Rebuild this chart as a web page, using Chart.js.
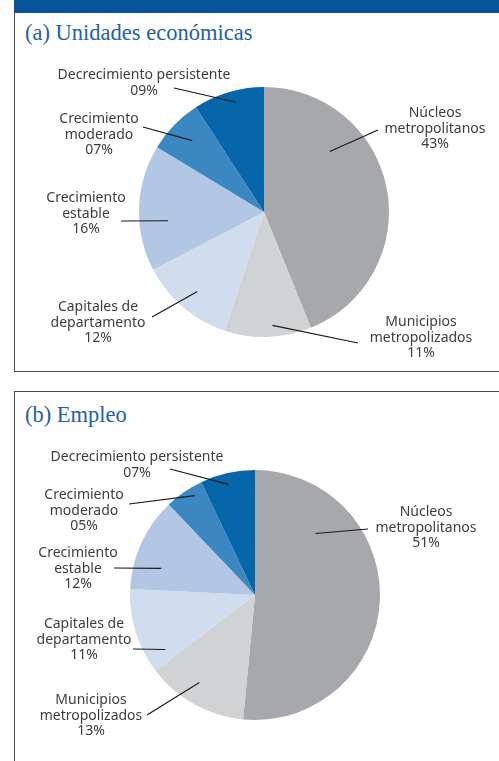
<!DOCTYPE html>
<html>
<head>
<meta charset="utf-8">
<script src="https://cdn.jsdelivr.net/npm/chart.js@4"></script>
<style>
  html, body { margin: 0; padding: 0; background: #fff; }
  body { width: 499px; height: 761px; position: relative; overflow: hidden; }
  .bar { position: absolute; left: 14px; top: 0; width: 485px; height: 13px; background: #08539c; }
  .frameA { position: absolute; left: 14px; top: 13px; width: 485px; height: 359px; border-left: 1.5px solid #4a4a4a; border-bottom: 1.5px solid #4a4a4a; box-sizing: border-box; }
  .frameB { position: absolute; left: 14px; top: 391px; width: 485px; height: 370px; border-left: 1.5px solid #4a4a4a; border-top: 1.5px solid #4a4a4a; box-sizing: border-box; }
  .title { position: absolute; left: 25px; font-family: "Liberation Serif", "DejaVu Serif", serif; font-size: 22.5px; color: #2461a6; white-space: nowrap; line-height: 1; }
  canvas { position: absolute; left: 0; }
</style>
</head>
<body>
<div class="bar"></div>
<div class="frameA"></div>
<div class="frameB"></div>
<div class="title" style="top:22px;">(a) Unidades económicas</div>
<div class="title" style="top:404px;">(b) Empleo</div>
<canvas id="chartA" width="499" height="372" style="top:0px;"></canvas>
<canvas id="chartB" width="499" height="381" style="top:380px;"></canvas>
<script>
// ---- data ----
const categories = ["Núcleos metropolitanos", "Municipios metropolizados", "Capitales de departamento", "Crecimiento estable", "Crecimiento moderado", "Decrecimiento persistente"];
const categoryLines = [["Núcleos", "metropolitanos"], ["Municipios", "metropolizados"], ["Capitales de", "departamento"], ["Crecimiento", "estable"], ["Crecimiento", "moderado"], ["Decrecimiento persistente"]];
const unidadesValues = [43, 11, 12, 16, 7, 9];
const empleoValues = [51, 13, 11, 12, 5, 7];

// ---- styles ----
const sliceColors = ["#a7a8ab", "#d1d2d4", "#d0ddee", "#b1c7e3", "#3a87c1", "#0766a9"];

// label placement: t = position within slice, rf = radius fraction of leader start,
// (ox,oy) leader outer end relative to pie centre, (tx,ty) first text line centre relative to pie centre
const placeA = [
  { t: 0.30, rf: 0.715, ox: 114, oy: -82, tx: 171, ty: -99 },
  { t: 0.44, rf: 0.91, ox: 94, oy: 131, tx: 157, ty: 110 },
  { t: 0.49, rf: 0.83, ox: -112, oy: 105, tx: -166, ty: 95 },
  { t: 0.38, rf: 0.77, ox: -143, oy: 9, tx: -178, ty: -14 },
  { t: 0.53, rf: 0.81, ox: -121, oy: -85, tx: -165, ty: -93 },
  { t: 0.57, rf: 0.906, ox: -90, oy: -124, tx: -120, ty: -137 }
];
const placeB = [
  { t: 0.24, rf: 0.69, ox: 113, oy: -66, tx: 171, ty: -83 },
  { t: 0.57, rf: 0.83, ox: -108, oy: 120, tx: -164, ty: 105 },
  { t: 0.15, rf: 0.84, ox: -122, oy: 54, tx: -171, ty: 29 },
  { t: 0.30, rf: 0.78, ox: -141, oy: -27, tx: -177, ty: -42 },
  { t: 0.68, rf: 0.93, ox: -126, oy: -91, tx: -171, ty: -100 },
  { t: 0.47, rf: 0.91, ox: -85, oy: -126, tx: -118, ty: -138 }
];

const pct = v => String(v).padStart(2, "0") + "%";

const leaderPlugin = {
  id: "leaders",
  afterDatasetsDraw(chart, args, opts) {
    const ctx = chart.ctx;
    const meta = chart.getDatasetMeta(0);
    const vals = chart.data.datasets[0].data;
    ctx.save();
    meta.data.forEach((arc, i) => {
      const p = opts.place[i];
      const pr = arc.getProps(["x", "y", "startAngle", "endAngle", "outerRadius"], true);
      const a = pr.startAngle + (pr.endAngle - pr.startAngle) * p.t;
      const ix = pr.x + Math.cos(a) * pr.outerRadius * p.rf;
      const iy = pr.y + Math.sin(a) * pr.outerRadius * p.rf;
      ctx.beginPath();
      ctx.strokeStyle = "#1a1a1a";
      ctx.lineWidth = 1.2;
      ctx.moveTo(ix, iy);
      ctx.lineTo(pr.x + p.ox, pr.y + p.oy);
      ctx.stroke();
      const lines = categoryLines[i].concat([pct(vals[i])]);
      ctx.fillStyle = "#3d3d3d";
      ctx.font = '14px "Noto Sans", "Open Sans", sans-serif';
      ctx.textAlign = "center";
      ctx.textBaseline = "middle";
      lines.forEach((ln, k) => {
        ctx.fillText(ln, pr.x + p.tx, pr.y + p.ty + k * 15.6);
      });
    });
    ctx.restore();
  }
};

function makePie(id, values, place, padding) {
  return new Chart(document.getElementById(id), {
    type: "pie",
    data: {
      labels: categories,
      datasets: [{ data: values, backgroundColor: sliceColors, borderWidth: 0 }]
    },
    options: {
      responsive: false,
      animation: false,
      layout: { padding: padding },
      plugins: {
        legend: { display: false },
        tooltip: { enabled: false },
        leaders: { place: place }
      }
    },
    plugins: [leaderPlugin]
  });
}

makePie("chartA", unidadesValues, placeA, { left: 139, right: 110, top: 87, bottom: 35 });
makePie("chartB", empleoValues, placeB, { left: 130, right: 119, top: 90, bottom: 41 });
</script>
</body>
</html>
